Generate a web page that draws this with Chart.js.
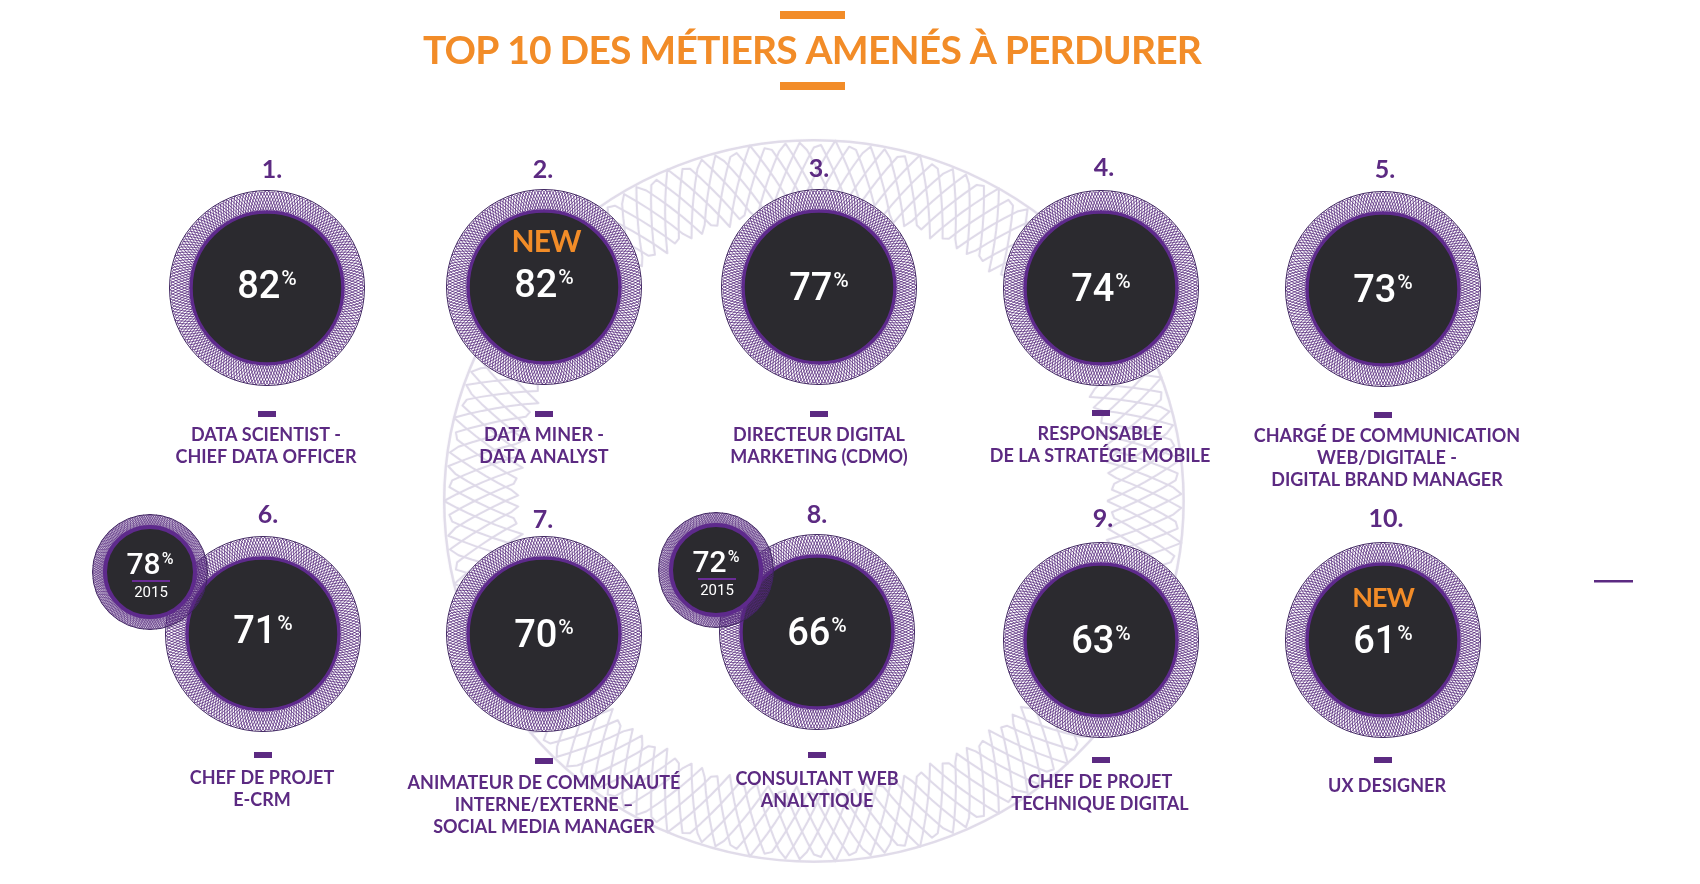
<!DOCTYPE html>
<html lang="fr">
<head>
<meta charset="utf-8">
<title>Top 10 des métiers amenés à perdurer</title>
<script src="https://cdn.jsdelivr.net/npm/chart.js@4"></script>
<style>
  html, body { margin: 0; padding: 0; background: #fff; }
  canvas { display: block; }
</style>
</head>
<body>
<canvas id="top-chart" width="1700" height="884"></canvas>
<script>
const chartTitle = 'TOP 10 DES MÉTIERS AMENÉS À PERDURER'
const ranks = ['1.', '2.', '3.', '4.', '5.', '6.', '7.', '8.', '9.', '10.']
const jobs = [
    ['DATA SCIENTIST -', 'CHIEF DATA OFFICER'],
    ['DATA MINER -', 'DATA ANALYST'],
    ['DIRECTEUR DIGITAL', 'MARKETING (CDMO)'],
    ['RESPONSABLE', 'DE LA STRATÉGIE MOBILE'],
    ['CHARGÉ DE COMMUNICATION', 'WEB/DIGITALE -', 'DIGITAL BRAND MANAGER'],
    ['CHEF DE PROJET', 'E-CRM'],
    ['ANIMATEUR DE COMMUNAUTÉ', 'INTERNE/EXTERNE –', 'SOCIAL MEDIA MANAGER'],
    ['CONSULTANT WEB', 'ANALYTIQUE'],
    ['CHEF DE PROJET', 'TECHNIQUE DIGITAL'],
    ['UX DESIGNER'],
]
const scores = [82, 82, 77, 74, 73, 71, 70, 66, 63, 61]
const scores2015 = [null, null, null, null, null, 78, null, 72, null, null]
const newEntries = [false, true, false, false, false, false, false, false, false, true]
const previousYear = '2015'
const newLabel = 'NEW'

// layout: one scale unit is one column / one row of the 5x2 grid
const COLUMN_PX = 279
const ROW_PX = 349
const FIRST_X = 267
const FIRST_Y = 288
const nudgeX = [0, -2, -6, -3, 0, -4, -2, -8, -3, 0]
const nudgeY = [0, -1, -1, 0, 1, -3, -3, -5, 3, 3]
const rankDx = [5, -1, 0, 3, 2, 5, -1, 0, 2, 3]
const rankDy = [-118, -117, -118, -120, -119, -119, -114, -117, -121, -121]
const dashDy = [123, 124, 124, 122, 123, 118, 124, 120, 117, 117]
const labelDx = [-1, 0, 0, -1, 4, -1, 0, 0, -1, 4]
const labelDy = [147, 148, 148, 146, 147, 144, 149, 147, 142, 146]
const valueDy = [-4, -4, -1, -1, -1, -5, -1, -1, -1, -1]
const PURPLE = '#5c2a82'
const ORANGE = '#f28c28'
const DARK = '#2b2a2f'
const FONT = 'Lato, "Open Sans", sans-serif'

// woven band: zigzags running round a ring, phase shifted to make a diamond lattice
function MakeRing({ rx, ry, inner, waves, phases, lineWidth, color, edge, edgeWidth, disc, backing }) {
    let canvas = document.createElement('canvas')
    canvas.width = Math.ceil(rx * 2) + 4
    canvas.height = Math.ceil(ry * 2) + 4
    let ctx = canvas.getContext('2d')
    ctx.translate(canvas.width / 2, canvas.height / 2)
    ctx.scale(rx / ry, 1)
    let outer = ry
    let mid = (outer + inner) / 2
    let amp = (outer - inner) / 2 - lineWidth / 2
    if (backing) {
        ctx.fillStyle = backing
        ctx.beginPath()
        ctx.arc(0, 0, outer, 0, Math.PI * 2)
        ctx.fill()
    }
    ctx.strokeStyle = color
    ctx.lineWidth = lineWidth
    ctx.lineJoin = 'round'
    for (let p = 0; p < phases; p++) {
        ctx.beginPath()
        let steps = waves * 2 * 6
        for (let s = 0; s <= steps; s++) {
            let a = s / steps * Math.PI * 2
            let t = (waves * a / (Math.PI * 2) + p / phases) % 1
            let r = mid + amp * (t < 0.5 ? 4 * t - 1 : 3 - 4 * t)
            ctx.lineTo(Math.cos(a) * r, Math.sin(a) * r)
        }
        ctx.stroke()
    }
    if (edge) {
        ctx.strokeStyle = edge
        ctx.lineWidth = edgeWidth
        ctx.beginPath()
        ctx.arc(0, 0, outer - edgeWidth / 2, 0, Math.PI * 2)
        ctx.stroke()
    }
    if (disc) {
        ctx.fillStyle = DARK
        ctx.strokeStyle = '#5e2a8c'
        ctx.lineWidth = disc.line
        ctx.beginPath()
        ctx.arc(0, 0, disc.r, 0, Math.PI * 2)
        ctx.fill()
        ctx.stroke()
    }
    return canvas
}

const bigRing = MakeRing({ rx: 98, ry: 98, inner: 76, waves: 28, phases: 7, lineWidth: 0.8, color: '#55287c', edge: '#3f2560', edgeWidth: 1, disc: { r: 76, line: 3.5 }, backing: '#fff' })
const smallRing = MakeRing({ rx: 58, ry: 58, inner: 44, waves: 28, phases: 7, lineWidth: 0.7, color: '#55287c', edge: '#3f2560', edgeWidth: 1, disc: { r: 45, line: 4 } })
const backRing = MakeRing({ rx: 371, ry: 362, inner: 285, waves: 27, phases: 5, lineWidth: 2, color: '#ded9e8', edge: '#e0dbe9', edgeWidth: 2.5 })

const gridX = i => (i % 5) + nudgeX[i] / COLUMN_PX
const gridY = i => Math.floor(i / 5) + nudgeY[i] / ROW_PX
const jobPoints = scores.map((score, i) => ({ x: gridX(i), y: gridY(i) }))
// the 2015 bubbles sit up and to the left of their job
const pastPoints = scores2015
    .map((score, i) => score === null ? null : { x: gridX(i) - (i === 5 ? 113 : 101) / COLUMN_PX, y: gridY(i) - 62 / ROW_PX, score })
    .filter(p => p)

function DrawValue(ctx, value, cx, cy, size, sign) {
    ctx.font = `500 ${size}px Roboto, ${FONT}`
    let numWidth = ctx.measureText(value).width
    ctx.font = `500 ${sign}px Roboto, ${FONT}`
    let signWidth = ctx.measureText('%').width
    let left = cx - (numWidth + signWidth + 1) / 2
    ctx.textAlign = 'left'
    ctx.textBaseline = 'alphabetic'
    ctx.fillStyle = '#fff'
    ctx.font = `500 ${size}px Roboto, ${FONT}`
    ctx.fillText(value, left, cy + size * 0.36)
    ctx.font = `500 ${sign}px Roboto, ${FONT}`
    ctx.fillText('%', left + numWidth + 1, cy - size * 0.36 + sign * 0.72)
}

const backdrop = {
    id: 'backdrop',
    beforeDatasetsDraw(chart) {
        let { ctx, scales: { x, y } } = chart
        ctx.drawImage(backRing, x.getPixelForValue(1.96) - backRing.width / 2, y.getPixelForValue(0.61) - backRing.height / 2)
    },
}

const textLayer = {
    id: 'textLayer',
    afterDatasetsDraw(chart) {
        let { ctx } = chart
        ctx.save()
        ctx.textBaseline = 'middle'

        // title and its two bars
        ctx.fillStyle = ORANGE
        ctx.fillRect(780, 11, 65, 8)
        ctx.fillRect(780, 82, 65, 8)
        ctx.font = `700 39px ${FONT}`
        ctx.letterSpacing = '-0.8px'
        ctx.textAlign = 'center'
        ctx.fillText(chartTitle, 812, 51)
        ctx.letterSpacing = '0px'

        // stray rule at the right of the page
        ctx.fillStyle = PURPLE
        ctx.fillRect(1594, 580, 39, 2.5)

        chart.getDatasetMeta(1).data.forEach((pt, i) => {
            ctx.textBaseline = 'middle'
            ctx.textAlign = 'center'
            ctx.fillStyle = PURPLE
            ctx.font = `700 25px ${FONT}`
            ctx.fillText(ranks[i], pt.x + rankDx[i], pt.y + rankDy[i])
            ctx.fillRect(pt.x - 9, pt.y + dashDy[i], 18, 6)
            ctx.font = `700 18px ${FONT}`
            jobs[i].forEach((line, n) => ctx.fillText(line, pt.x + labelDx[i], pt.y + labelDy[i] + n * 22))

            DrawValue(ctx, String(scores[i]), pt.x, pt.y + valueDy[i], 38, 21)
            if (newEntries[i]) {
                ctx.textBaseline = 'middle'
                ctx.textAlign = 'center'
                ctx.fillStyle = ORANGE
                ctx.font = `700 ${i === 1 ? 30 : 27}px ${FONT}`
                ctx.letterSpacing = '-1px'
                ctx.fillText(newLabel, pt.x + (i === 1 ? 2 : 0), pt.y - (i === 1 ? 45 : 42))
                ctx.letterSpacing = '0px'
            }
        })

        chart.getDatasetMeta(0).data.forEach((pt, i) => {
            DrawValue(ctx, String(pastPoints[i].score), pt.x, pt.y - 9, 30, 16)
            ctx.fillStyle = '#6a2c96'
            ctx.fillRect(pt.x - 18, pt.y + 8, 38, 2)
            ctx.textAlign = 'center'
            ctx.textBaseline = 'middle'
            ctx.fillStyle = '#fff'
            ctx.font = `400 15px Roboto, ${FONT}`
            ctx.fillText(previousYear, pt.x + 1, pt.y + 21)
        })
        ctx.restore()
    },
}

new Chart(document.getElementById('top-chart'), {
    type: 'scatter',
    data: {
        datasets: [
            { label: '2015', data: pastPoints, pointStyle: smallRing, pointRadius: 58 },
            { label: '2016', data: jobPoints, pointStyle: bigRing, pointRadius: 98 },
        ],
    },
    options: {
        responsive: false,
        animation: false,
        devicePixelRatio: 1,
        layout: { padding: 0, autoPadding: false },
        events: [],
        scales: {
            x: { display: false, min: -FIRST_X / COLUMN_PX, max: (1700 - FIRST_X) / COLUMN_PX },
            y: { display: false, reverse: true, min: -FIRST_Y / ROW_PX, max: (884 - FIRST_Y) / ROW_PX },
        },
        plugins: {
            legend: { display: false },
            title: { display: false },
            tooltip: { enabled: false },
        },
    },
    plugins: [backdrop, textLayer],
})
</script>
</body>
</html>
